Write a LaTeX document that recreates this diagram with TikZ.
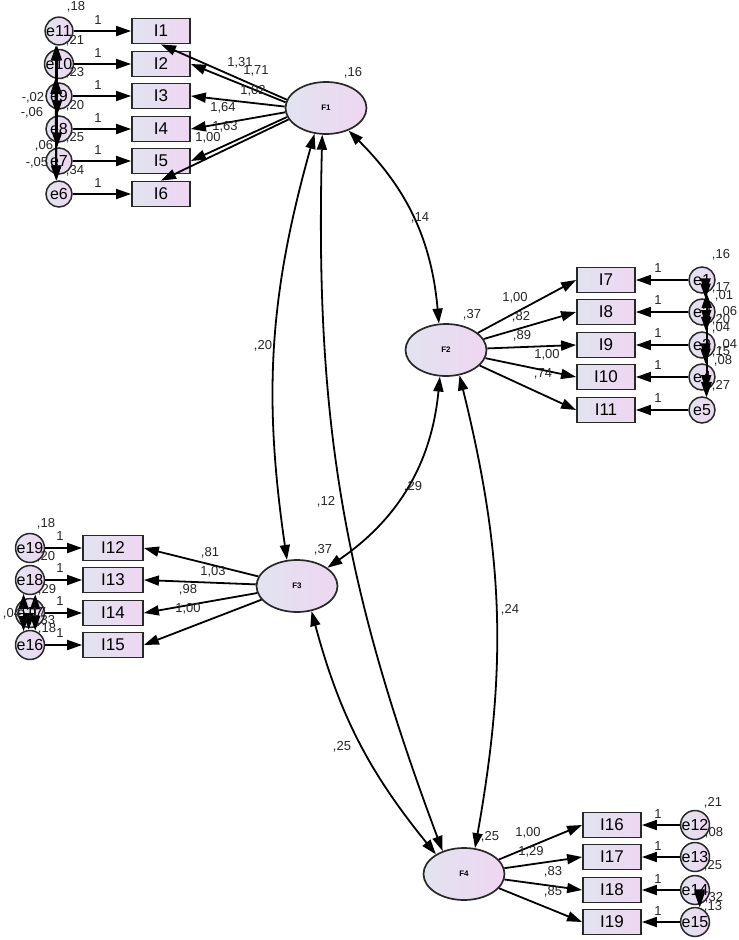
\documentclass[tikz,border=0pt]{standalone}
\usepackage{fontspec}
\setmainfont{Liberation Sans}
\usetikzlibrary{arrows.meta,shapes.geometric}
\definecolor{fillL}{RGB}{226,227,240}
\definecolor{fillR}{RGB}{238,214,241}
\definecolor{edge}{RGB}{40,40,40}
\begin{document}
\begin{tikzpicture}[x=1pt,y=1pt,
  obs/.style={draw=edge, line width=1.8pt, minimum width=58pt, minimum height=25pt, inner sep=0pt, left color=fillL, right color=fillR, font=\fontsize{17}{17}\selectfont},
  err/.style={circle, draw=edge, line width=1.5pt, minimum size=26pt, inner sep=0pt, left color=fillL, right color=fillR, font=\fontsize{16}{16}\selectfont},
  lat/.style={ellipse, draw=edge, line width=1.7pt, minimum width=81pt, minimum height=52pt, inner sep=0pt, left color=fillL, right color=fillR, font=\bfseries\fontsize{8}{8}\selectfont},
  lbl/.style={font=\fontsize{13}{13}\selectfont, inner sep=0pt, text=black!85},
  arr/.style={-{Triangle[length=15pt,width=10pt]}, line width=1.8pt, draw=black},
  dbl/.style={{Triangle[length=15pt,width=10pt]}-{Triangle[length=15pt,width=10pt]}, line width=1.8pt, draw=black},
]
\fill[white] (0,0) rectangle (739,-940);
\useasboundingbox (0,0) rectangle (739,-940);

% ---------------- F1 group ----------------
\node[lat] (F1) at (326,-108) {F1};
\node[obs] (I1) at (161,-31) {I1};
\node[obs] (I2) at (161,-64) {I2};
\node[obs] (I3) at (161,-96) {I3};
\node[obs] (I4) at (161,-129) {I4};
\node[obs] (I5) at (161,-161) {I5};
\node[obs] (I6) at (161,-194) {I6};
\node[err] (e11) at (59,-31) {e11};
\node[err] (e10) at (59,-64) {e10};
\node[err] (e9) at (59,-96) {e9};
\node[err] (e8) at (59,-129) {e8};
\node[err] (e7) at (59,-161) {e7};
\node[err] (e6) at (59,-194) {e6};
\draw[arr] (e11) -- (I1);
\draw[arr] (e10) -- (I2);
\draw[arr] (e9) -- (I3);
\draw[arr] (e8) -- (I4);
\draw[arr] (e7) -- (I5);
\draw[arr] (e6) -- (I6);
\node[lbl] at (98,-20) {1};
\node[lbl] at (98,-53) {1};
\node[lbl] at (98,-85) {1};
\node[lbl] at (98,-118) {1};
\node[lbl] at (98,-150) {1};
\node[lbl] at (98,-183) {1};
\draw[arr] (F1.168) -- (I1.south);
\draw[arr] (F1.172) -- (I2.east);
\draw[arr] (F1.178) -- (I3.east);
\draw[arr] (F1.186) -- (I4.east);
\draw[arr] (F1.193) -- (I5.east);
\draw[arr] (F1.197) -- (I6.north);
\node[lbl] at (240,-63) {1,31};
\node[lbl] at (256,-71) {1,71};
\node[lbl] at (253,-91) {1,02};
\node[lbl] at (223,-108) {1,64};
\node[lbl] at (225,-127) {1,63};
\node[lbl] at (208,-138) {1,00};
\node[lbl] at (353,-73) {,16};
\draw[dbl] (e11.262) -- (e8.98);
\draw[dbl] (e11.258) -- (e6.102);
\draw[dbl] (e10.262) -- (e7.98);
\draw[dbl] (e10.256) -- (e6.100);
\node[lbl] at (76,-7) {,18};
\node[lbl] at (75,-41) {,21};
\node[lbl] at (75,-73) {,23};
\node[lbl] at (75,-106) {,20};
\node[lbl] at (75,-138) {,25};
\node[lbl] at (75,-171) {,34};
\node[lbl] at (33,-98) {-,02};
\node[lbl] at (32,-113) {-,06};
\node[lbl] at (44,-146) {,06};
\node[lbl] at (37,-163) {-,05};

% ---------------- F2 group ----------------
\node[lat] (F2) at (446,-350) {F2};
\node[obs] (I7) at (606,-280) {I7};
\node[obs] (I8) at (606,-312) {I8};
\node[obs] (I9) at (606,-345) {I9};
\node[obs] (I10) at (606,-377) {I10};
\node[obs] (I11) at (606,-410) {I11};
\node[err] (e1) at (702,-280) {e1};
\node[err] (e2) at (702,-312) {e2};
\node[err] (e3) at (702,-345) {e3};
\node[err] (e4) at (702,-377) {e4};
\node[err] (e5) at (702,-410) {e5};
\draw[arr] (e1) -- (I7);
\draw[arr] (e2) -- (I8);
\draw[arr] (e3) -- (I9);
\draw[arr] (e4) -- (I10);
\draw[arr] (e5) -- (I11);
\node[lbl] at (658,-268) {1};
\node[lbl] at (658,-300) {1};
\node[lbl] at (658,-333) {1};
\node[lbl] at (658,-365) {1};
\node[lbl] at (658,-398) {1};
\draw[arr] (F2) -- (I7.west);
\draw[arr] (F2) -- (I8.west);
\draw[arr] (F2) -- (I9.west);
\draw[arr] (F2) -- (I10.west);
\draw[arr] (F2) -- (I11.west);
\node[lbl] at (515,-298) {1,00};
\node[lbl] at (521,-317) {,82};
\node[lbl] at (522,-336) {,89};
\node[lbl] at (547,-355) {1,00};
\node[lbl] at (543,-374) {,74};
\node[lbl] at (472,-315) {,37};
\draw[dbl] (e1.-75) -- (e2.75);
\draw[dbl] (e1.-70) -- (e5.70);
\draw[dbl] (e2.-72) -- (e3.72);
\draw[dbl] (e3.-75) -- (e4.75);
\draw[dbl] (e4.-72) -- (e5.72);
\node[lbl] at (721,-255) {,16};
\node[lbl] at (721,-288) {,17};
\node[lbl] at (724,-296) {,01};
\node[lbl] at (728,-312) {,06};
\node[lbl] at (721,-320) {,20};
\node[lbl] at (721,-328) {,04};
\node[lbl] at (728,-345) {,04};
\node[lbl] at (721,-352) {,15};
\node[lbl] at (723,-361) {,08};
\node[lbl] at (721,-386) {,27};

% ---------------- F3 group ----------------
\node[lat] (F3) at (297,-586) {F3};
\node[obs, minimum width=60pt] (I12) at (113,-548) {I12};
\node[obs, minimum width=60pt] (I13) at (113,-580) {I13};
\node[obs, minimum width=60pt] (I14) at (113,-613) {I14};
\node[obs, minimum width=60pt] (I15) at (113,-645) {I15};
\node[err] (e19) at (30,-548) {e19};
\node[err] (e18) at (30,-580) {e18};
\node[err] (e17) at (30,-613) {e17};
\node[err] (e16) at (30,-645) {e16};
\draw[arr] (e19) -- (I12);
\draw[arr] (e18) -- (I13);
\draw[arr] (e17) -- (I14);
\draw[arr] (e16) -- (I15);
\node[lbl] at (60,-536) {1};
\node[lbl] at (60,-568) {1};
\node[lbl] at (60,-601) {1};
\node[lbl] at (60,-633) {1};
\draw[arr] (F3) -- (I12.east);
\draw[arr] (F3) -- (I13.east);
\draw[arr] (F3) -- (I14.east);
\draw[arr] (F3) -- (I15.east);
\node[lbl] at (210,-553) {,81};
\node[lbl] at (213,-572) {1,03};
\node[lbl] at (188,-590) {,98};
\node[lbl] at (188,-609) {1,00};
\node[lbl] at (323,-550) {,37};
\draw[dbl] (e18.-115) -- (e16.115);
\draw[dbl] (e18.-70) -- (e16.70);
\draw[dbl] (e17.-95) -- (e16.95);
\node[lbl] at (46,-524) {,18};
\node[lbl] at (46,-557) {,20};
\node[lbl] at (47,-590) {,29};
\node[lbl] at (12,-614) {,04};
\node[lbl] at (37,-613) {,17};
\node[lbl] at (46,-621) {,33};
\node[lbl] at (47,-629) {,18};

% ---------------- F4 group ----------------
\node[lat] (F4) at (464,-874) {F4};
\node[obs] (I16) at (612,-825) {I16};
\node[obs] (I17) at (612,-857) {I17};
\node[obs] (I18) at (612,-890) {I18};
\node[obs] (I19) at (612,-922) {I19};
\node[err] (e12) at (695,-825) {e12};
\node[err] (e13) at (695,-857) {e13};
\node[err] (e14) at (695,-890) {e14};
\node[err] (e15) at (695,-922) {e15};
\draw[arr] (e12) -- (I16);
\draw[arr] (e13) -- (I17);
\draw[arr] (e14) -- (I18);
\draw[arr] (e15) -- (I19);
\node[lbl] at (658,-814) {1};
\node[lbl] at (658,-846) {1};
\node[lbl] at (658,-879) {1};
\node[lbl] at (658,-911) {1};
\draw[arr] (F4) -- (I16.west);
\draw[arr] (F4) -- (I17.west);
\draw[arr] (F4) -- (I18.west);
\draw[arr] (F4) -- (I19.west);
\node[lbl] at (528,-833) {1,00};
\node[lbl] at (531,-852) {1,29};
\node[lbl] at (553,-872) {,83};
\node[lbl] at (553,-892) {,85};
\node[lbl] at (490,-837) {,25};
\draw[dbl] (e14.-72) -- (e15.72);
\node[lbl] at (713,-803) {,21};
\node[lbl] at (714,-833) {,08};
\node[lbl] at (713,-866) {,25};
\node[lbl] at (714,-898) {,32};
\node[lbl] at (713,-907) {,13};

% ---------------- factor covariances ----------------
\draw[dbl] (F1.-45) to[bend left=20] (F2.105);
\draw[dbl] (F1.-114) to[bend right=12] (F3.111);
\draw[dbl] (F1.-98) to[bend right=11] (F4.133);
\draw[dbl] (F2.-103) to[bend left=25] (F3.31);
\draw[dbl] (F2.-62) to[bend left=12] (F4.67);
\draw[dbl] (F3.-60) to[bend right=12] (F4.145);
\node[lbl] at (420,-218) {,14};
\node[lbl] at (263,-346) {,20};
\node[lbl] at (326,-502) {,12};
\node[lbl] at (413,-487) {,29};
\node[lbl] at (510,-610) {,24};
\node[lbl] at (342,-747) {,25};
\end{tikzpicture}
\end{document}
